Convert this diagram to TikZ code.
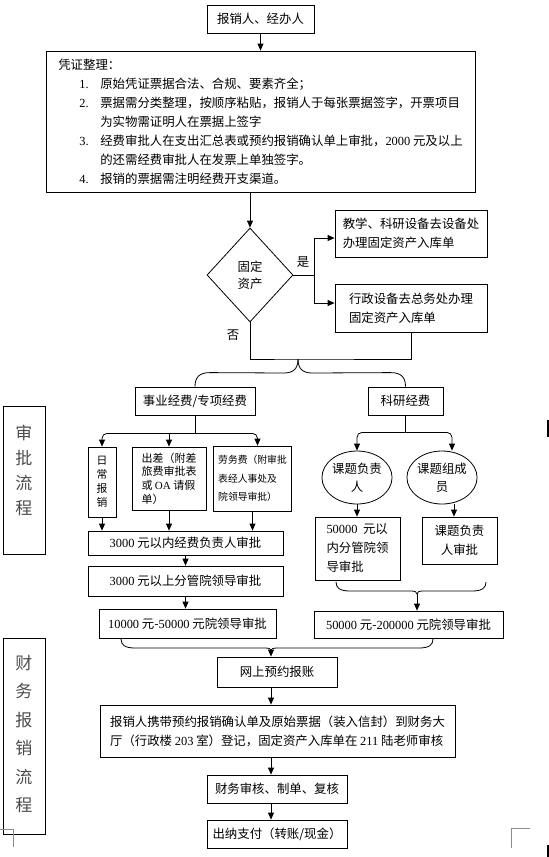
\documentclass[tikz,border=0pt]{standalone}
\usepackage{fontspec}
\setmainfont{Noto Sans CJK SC}
\newfontfamily\tnr{Liberation Serif}
\newcommand{\nm}[1]{{\tnr #1}}
\usetikzlibrary{shapes.geometric,arrows.meta,calc}

\begin{document}
\begin{tikzpicture}[x=1pt,y=-1pt,>={Triangle[length=7pt,width=6pt]},line width=0.8pt]
  \tikzstyle{boxStyle}=[draw,inner sep=0pt,align=center,font=\fontsize{12.4}{19}\selectfont]
  \tikzstyle{smallStyle}=[draw,inner sep=0pt,font=\fontsize{10.8}{14}\selectfont]
  \tikzstyle{diamondStyle}=[draw,diamond,inner sep=0pt,align=center,font=\fontsize{12.4}{17}\selectfont]
  \tikzstyle{ellipseStyle}=[draw,ellipse,inner sep=0pt,align=center,font=\fontsize{12.4}{18}\selectfont]
  \tikzstyle{textStyle}=[inner sep=0pt,font=\fontsize{12.4}{15}\selectfont]
  \tikzstyle{sideBox}=[draw,inner sep=0pt]
  \tikzstyle{sideText}=[inner sep=0pt,align=center,text=black!70]
  \tikzstyle{cropStyle}=[draw=black!45,line width=0.6pt]

  \useasboundingbox (0,0) rectangle (549,857);

  \begin{scope}
   \node[boxStyle,minimum width=107,minimum height=28](agent) at (260.5,19) {报销人、经办人};

   \node[boxStyle,minimum width=429,minimum height=141,align=left](voucher) at (260.5,121.5) {凭证整理：\\
     \hspace*{21pt}\makebox[21pt][l]{\nm{1.}}原始凭证票据合法、合规、要素齐全；\\
     \hspace*{21pt}\makebox[21pt][l]{\nm{2.}}票据需分类整理，按顺序粘贴，报销人于每张票据签字，开票项目\\
     \hspace*{42pt}为实物需证明人在票据上签字\\
     \hspace*{21pt}\makebox[21pt][l]{\nm{3.}}经费审批人在支出汇总表或预约报销确认单上审批，\nm{2000} 元及以上\\
     \hspace*{42pt}的还需经费审批人在发票上单独签字。\\
     \hspace*{21pt}\makebox[21pt][l]{\nm{4.}}报销的票据需注明经费开支渠道。};
   \draw[->] (agent.south) -- (voucher.north);

   \node[diamondStyle,minimum width=86,minimum height=94](asset) at (250,275) {固定\\资产};
   \draw[->] (voucher.south -| asset.north) -- (asset.north);

   \node[boxStyle,minimum width=152,minimum height=47,align=left](teach) at (411,233.5) {教学、科研设备去设备处\\办理固定资产入库单};
   \node[boxStyle,minimum width=152,minimum height=48,align=left](admin) at (411,308) {行政设备去总务处办理\\固定资产入库单};
   \coordinate (yes) at (314,275);
   \draw[-] (asset.east) -- (yes);
   \draw[->] (yes) |- ([yshift=-4.5pt]teach.west);
   \draw[->] (yes) |- ([yshift=5pt]admin.west);
   \node[textStyle](yesText) at (303,262) {是};
   \node[textStyle](noText) at (233,335) {否};
   \coordinate (no) at (298,359);
   \draw[-] (asset.south) |- (no) -| (admin.south);

   % two kinds of funds
   \node[boxStyle,minimum width=120,minimum height=28](fund) at (195,401) {事业经费/专项经费};
   \node[boxStyle,minimum width=75,minimum height=28](research) at (405.5,401) {科研经费};
   \draw[-] (no) .. controls ($(no)+(0,9)$) and ($(no)+(-4,14)$) .. ($(no)+(-14,14)$) -- ($(fund.north)+(15,-14)$) .. controls ($(fund.north)+(4,-14)$) and ($(fund.north)+(0,-9)$) .. (fund.north);
   \draw[-] (no) .. controls ($(no)+(0,9)$) and ($(no)+(4,14)$) .. ($(no)+(14,14)$) -- ($(research.north)+(-15,-14)$) .. controls ($(research.north)+(-4,-14)$) and ($(research.north)+(0,-9)$) .. (research.north);

   % left branch
   \node[smallStyle,minimum width=28,minimum height=70,align=center](daily) at (102,482) {日\\常\\报\\销};
   \node[smallStyle,minimum width=74,minimum height=63,align=left,font=\fontsize{11}{13.7}\selectfont](trip) at (169,478.5) {出差（附差\\旅费审批表\\或 \nm{OA} 请假\\单）};
   \node[smallStyle,minimum width=78,minimum height=65,align=left,font=\fontsize{9.8}{18.5}\selectfont](labor) at (252.5,478.5) {劳务费（附审批\\表经人事处及\\院领导审批）};
   \coordinate (fundSplit) at ($(fund.south)+(0,18)$);
   \draw[-] (fund.south) -- (fundSplit);
   \draw[->,rounded corners=5pt] (fundSplit) -| (daily.north);
   \draw[->] (fundSplit) -| (trip.north);
   \draw[->,rounded corners=5pt] (fundSplit) -| ([xshift=5pt]labor.north);

   \node[boxStyle,minimum width=195,minimum height=24](lowA) at (185.5,543) {\nm{3000} 元以内经费负责人审批};
   \draw[->] (daily.south) -- (daily.south |- lowA.north);
   \draw[->] (trip.south) -- (trip.south |- lowA.north);
   \draw[->] (labor.south) -- (labor.south |- lowA.north);
   \node[boxStyle,minimum width=195,minimum height=30](highA) at (185.5,581) {\nm{3000} 元以上分管院领导审批};
   \draw[->] (lowA.south) -- (highA.north);
   \node[boxStyle,minimum width=177,minimum height=29](topA) at (187.5,623.5) {\nm{10000} 元-\nm{50000} 元院领导审批};
   \draw[->] (highA.south) -- (highA.south |- topA.north);

   % right branch
   \node[ellipseStyle,minimum width=64,minimum height=53](leader) at (357,477.5) {课题负责\\人};
   \node[ellipseStyle,minimum width=62,minimum height=53](member) at (442,477.5) {课题组成\\员};
   \coordinate (researchSplit) at ($(research.south)+(0,17)$);
   \draw[-] (research.south) -- (researchSplit);
   \draw[->,rounded corners=5pt] (researchSplit) -| (leader.north);
   \draw[->,rounded corners=5pt] (researchSplit) -| ([xshift=10pt]member.north);

   \node[boxStyle,minimum width=85,minimum height=63,align=left](leaderOk) at (357.5,548.5) {\nm{50000}\ \ 元以\\内分管院领\\导审批};
   \node[boxStyle,minimum width=75,minimum height=47](memberOk) at (459.5,540.5) {课题负责\\人审批};
   \draw[->] (leader.south) -- (leader.south |- leaderOk.north);
   \draw[->] ([xshift=12pt]member.south) -- ([xshift=12pt]member.south |- memberOk.north);

   \coordinate (resBraceL) at (336,582);
   \coordinate (resBraceR) at (486,582);
   \coordinate (resBraceTip) at (417,594);
   \draw[-] (resBraceL) .. controls ($(resBraceL)+(0,6)$) and ($(resBraceL)+(4,9)$) .. ($(resBraceL)+(14,9)$) -- ($(resBraceTip)+(-6,-3)$) .. controls ($(resBraceTip)+(-2,-3)$) and ($(resBraceTip)+(0,-2)$) .. (resBraceTip) .. controls ($(resBraceTip)+(0,-2)$) and ($(resBraceTip)+(2,-3)$) .. ($(resBraceTip)+(6,-3)$) -- ($(resBraceR)+(-14,9)$) .. controls ($(resBraceR)+(-4,9)$) and ($(resBraceR)+(0,6)$) .. (resBraceR);

   \node[boxStyle,minimum width=189,minimum height=27](topB) at (408.5,624.5) {\nm{50000} 元-\nm{200000} 元院领导审批};
   \draw[->] (resBraceTip) -- (resBraceTip |- topB.north);

   % payment
   \coordinate (payBraceL) at (121,639);
   \coordinate (payBraceR) at (433,639);
   \coordinate (payBraceTip) at (271,650);
   \draw[-] (payBraceL) .. controls ($(payBraceL)+(0,6)$) and ($(payBraceL)+(4,9)$) .. ($(payBraceL)+(14,9)$) -- ($(payBraceTip)+(-6,-2)$) .. controls ($(payBraceTip)+(-2,-2)$) and ($(payBraceTip)+(0,-1)$) .. (payBraceTip) .. controls ($(payBraceTip)+(0,-1)$) and ($(payBraceTip)+(2,-2)$) .. ($(payBraceTip)+(6,-2)$) -- ($(payBraceR)+(-14,9)$) .. controls ($(payBraceR)+(-4,9)$) and ($(payBraceR)+(0,6)$) .. (payBraceR);

   \node[boxStyle,minimum width=120,minimum height=30](online) at (277,672) {网上预约报账};
   \draw[->] (payBraceTip) -- (payBraceTip |- online.north);
   \node[boxStyle,minimum width=355,minimum height=52,align=left](submit) at (277.5,731) {报销人携带预约报销确认单及原始票据（装入信封）到财务大\\厅（行政楼 \nm{203} 室）登记，固定资产入库单在 \nm{211} 陆老师审核};
   \draw[->] (payBraceTip |- online.south) -- (payBraceTip |- submit.north);
   \node[boxStyle,minimum width=140,minimum height=28](audit) at (277,789) {财务审核、制单、复核};
   \draw[->] (payBraceTip |- submit.south) -- (payBraceTip |- audit.north);
   \node[boxStyle,minimum width=140,minimum height=28](cashier) at (277,834) {出纳支付（转账/现金）};
   \draw[->] (payBraceTip |- audit.south) -- (payBraceTip |- cashier.north);

   % side labels
   \node[sideBox,minimum width=42,minimum height=148](approveBox) at (24,480) {};
   \node[sideText,font=\fontsize{17}{25}\selectfont](approveText) at (24,470.5) {审\\批\\流\\程};
   \node[sideBox,minimum width=42,minimum height=196](financeBox) at (24,736) {};
   \node[sideText,font=\fontsize{17}{28.4}\selectfont](financeText) at (24,734) {财\\务\\报\\销\\流\\程};

   % page marks
   \draw[cropStyle] (0,829) -| (13,847);
   \draw[cropStyle] (530,828) -| (511,848);
   \fill (547,420) rectangle (549,437);
   \fill (547,845) rectangle (549,857);
  \end{scope}

\end{tikzpicture}
\end{document}
